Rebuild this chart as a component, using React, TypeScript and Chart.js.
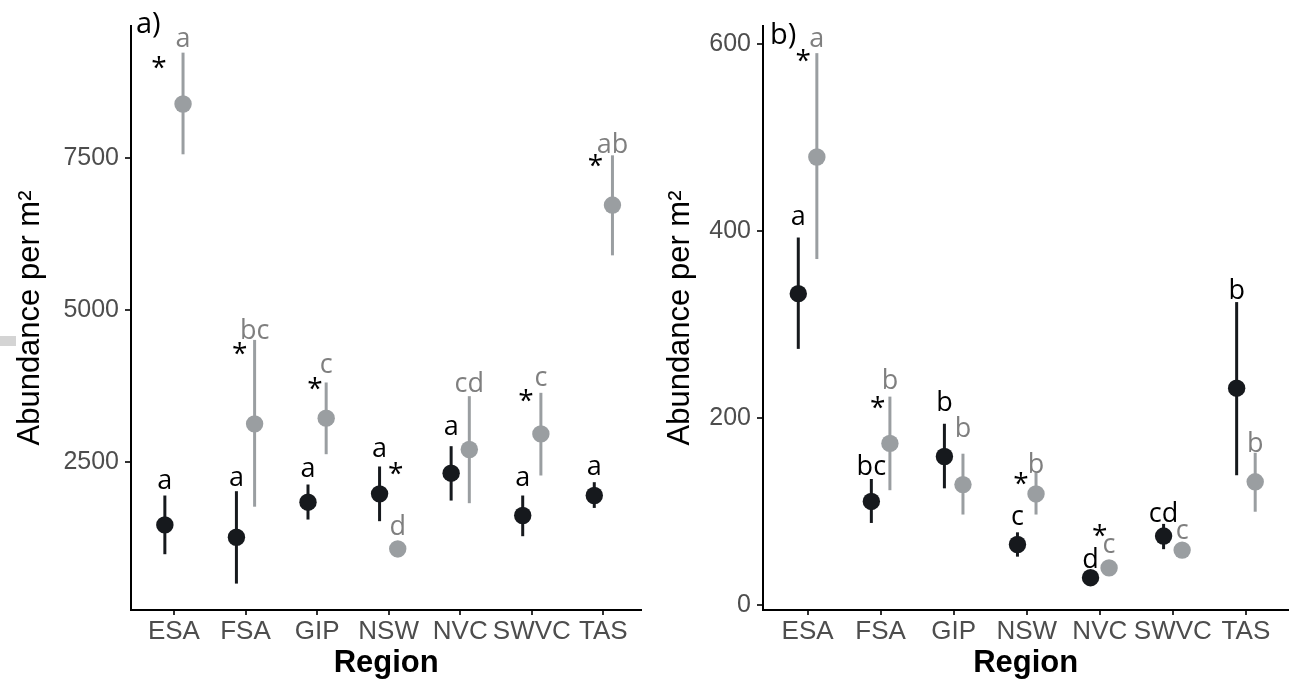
import React, { useEffect, useRef } from "react";
import { Chart, registerables } from "chart.js";
Chart.register(...registerables);

const regions = ["ESA", "FSA", "GIP", "NSW", "NVC", "SWVC", "TAS"];

// ---------- Panel a ----------
const aTicks = [2500, 5000, 7500];
const aBlackMean = [1469, 1266, 1842, 1979, 2319, 1623, 1952];
const aBlackLow = [987, 504, 1557, 1530, 1869, 1283, 1748];
const aBlackHigh = [1952, 2023, 2133, 2429, 2763, 1952, 2171];
const aGreyMean = [8388, 3130, 3224, 1075, 2708, 2965, 6727];
const aGreyLow = [7561, 1768, 2631, 937, 1826, 2281, 5900];
const aGreyHigh = [9232, 4510, 3810, 1157, 3585, 3640, 7544];
const aBlackLetters = ["a", "a", "a", "a", "a", "a", "a"];
const aBlackLetterY = [2188, 2225, 2373, 2702, 3064, 2225, 2418];
const aGreyLetters = ["a", "bc", "c", "d", "cd", "c", "ab"];
const aGreyLetterY = [9441, 4704, 4090, 1469, 3827, 3870, 7747];
const aStarY = [9062, 4363, 3788, 2390, null, 3597, 7467];
const aStarShift = [-0.21, -0.08, -0.03, 0.1, 0, -0.08, -0.11];

// ---------- Panel b ----------
const bTicks = [0, 200, 400, 600];
const bBlackMean = [333, 111, 159, 65, 29.5, 74, 232];
const bBlackLow = [274, 88, 125, 52, 27, 60, 139];
const bBlackHigh = [393, 135, 194, 78, 32, 87, 324];
const bGreyMean = [479, 173, 129, 119, 40, 59, 132];
const bGreyLow = [370, 123, 97, 97, 38, 56, 100];
const bGreyHigh = [590, 223, 162, 142, 42, 62, 163];
const bBlackLetters = ["a", "bc", "b", "c", "d", "cd", "b"];
const bBlackLetterY = [414, 151, 219, 94, 51, 100, 338];
const bGreyLetters = ["a", "b", "b", "b", "c", "c", "b"];
const bGreyLetterY = [605, 242, 191, 153, 64, 79, 175];
const bStarY = [588, 217, null, 135, 80, null, null];
const bStarShift = [-0.06, -0.04, 0, -0.08, 0, 0, 0];

const DODGE = 0.127;
const BLACK = "#16191d";
const GREY = "#9a9ea1";
const GREY_TEXT = "#7f7f7f";
const AXIS_FONT = '"Liberation Sans", Arial, sans-serif';
const NOTE_FONT = '"Open Sans", sans-serif';

type Panel = {
  label: string;
  labelX: number;
  labelY: number;
  yMin: number;
  yMax: number;
  xMin: number;
  xMax: number;
  yAxisWidth: number;
  padRight: number;
  ticks: number[];
  blackMean: number[];
  blackLow: number[];
  blackHigh: number[];
  greyMean: number[];
  greyLow: number[];
  greyHigh: number[];
  blackLetters: string[];
  blackLetterY: number[];
  greyLetters: string[];
  greyLetterY: number[];
  starY: (number | null)[];
  starShift: number[];
};

function makePlugin(p: Panel) {
  return {
    id: "annot" + p.label,
    beforeDatasetsDraw(chart: any) {
      const { ctx } = chart;
      const x = chart.scales.x;
      const y = chart.scales.y;
      ctx.save();
      ctx.lineWidth = 3;
      const sets: [number[], number[], number, string][] = [
        [p.blackLow, p.blackHigh, -DODGE, BLACK],
        [p.greyLow, p.greyHigh, DODGE, GREY],
      ];
      sets.forEach(([lo, hi, d, c]) => {
        ctx.strokeStyle = c;
        lo.forEach((l, i) => {
          const px = x.getPixelForValue(i + d);
          ctx.beginPath();
          ctx.moveTo(px, y.getPixelForValue(l));
          ctx.lineTo(px, y.getPixelForValue(hi[i]));
          ctx.stroke();
        });
      });
      ctx.restore();
    },
    afterDatasetsDraw(chart: any) {
      const { ctx } = chart;
      const x = chart.scales.x;
      const y = chart.scales.y;
      ctx.save();
      const drawCentered = (text: string, px: number, py: number, color: string) => {
        ctx.fillStyle = color;
        ctx.textAlign = "center";
        ctx.textBaseline = "alphabetic";
        const m = ctx.measureText(text);
        const asc = m.actualBoundingBoxAscent;
        const desc = m.actualBoundingBoxDescent;
        ctx.fillText(text, px, py + (asc - desc) / 2);
      };
      ctx.font = `27px ${NOTE_FONT}`;
      p.blackLetters.forEach((t, i) => {
        drawCentered(t, x.getPixelForValue(i - DODGE), y.getPixelForValue(p.blackLetterY[i]), "#000");
      });
      p.greyLetters.forEach((t, i) => {
        drawCentered(t, x.getPixelForValue(i + DODGE), y.getPixelForValue(p.greyLetterY[i]), GREY_TEXT);
      });
      ctx.font = `28px ${NOTE_FONT}`;
      p.starY.forEach((v, i) => {
        if (v === null) return;
        drawCentered("*", x.getPixelForValue(i + p.starShift[i]), y.getPixelForValue(v), "#000");
      });
      ctx.font = `29px ${NOTE_FONT}`;
      ctx.fillStyle = "#000";
      ctx.textAlign = "left";
      ctx.textBaseline = "alphabetic";
      const m = ctx.measureText(p.label);
      ctx.fillText(
        p.label,
        p.labelX,
        p.labelY + (m.actualBoundingBoxAscent - m.actualBoundingBoxDescent) / 2
      );
      ctx.restore();
    },
  };
}

function makeConfig(p: Panel): any {
  return {
    type: "scatter",
    data: {
      datasets: [
        {
          data: p.blackMean.map((v, i) => ({ x: i - DODGE, y: v })),
          pointBackgroundColor: BLACK,
          pointBorderWidth: 0,
          pointRadius: 8.7,
          pointHoverRadius: 8.7,
        },
        {
          data: p.greyMean.map((v, i) => ({ x: i + DODGE, y: v })),
          pointBackgroundColor: GREY,
          pointBorderWidth: 0,
          pointRadius: 8.7,
          pointHoverRadius: 8.7,
        },
      ],
    },
    options: {
      animation: false,
      responsive: false,
      maintainAspectRatio: false,
      events: [],
      layout: { padding: { left: 0, top: 26, right: p.padRight, bottom: 0 } },
      plugins: { legend: { display: false }, tooltip: { enabled: false }, title: { display: false } },
      scales: {
        x: {
          type: "linear",
          min: p.xMin,
          max: p.xMax,
          afterFit: (s: any) => {
            s.height = 74;
          },
          afterBuildTicks: (s: any) => {
            s.ticks = regions.map((_, i) => ({ value: i }));
          },
          ticks: {
            callback: (v: number) => regions[Math.round(v)],
            font: { family: AXIS_FONT, size: 26 },
            color: "#4d4d4d",
            padding: 1,
            maxRotation: 0,
            autoSkip: false,
          },
          grid: { display: true, drawOnChartArea: false, drawTicks: true, tickLength: 5, color: "#333", lineWidth: 2 },
          border: { display: true, color: "#000", width: 2 },
          title: {
            display: true,
            text: "Region",
            color: "#000",
            font: { family: AXIS_FONT, size: 31, weight: "bold" },
            padding: { top: 0, bottom: 2 },
          },
        },
        y: {
          type: "linear",
          min: p.yMin,
          max: p.yMax,
          afterFit: (s: any) => {
            s.width = p.yAxisWidth;
          },
          afterBuildTicks: (s: any) => {
            s.ticks = p.ticks.map((v) => ({ value: v }));
          },
          ticks: {
            font: { family: AXIS_FONT, size: 25 },
            color: "#4d4d4d",
            padding: 6,
            callback: (v: number) => String(v),
          },
          grid: { display: true, drawOnChartArea: false, drawTicks: true, tickLength: 6, color: "#333", lineWidth: 2 },
          border: { display: true, color: "#000", width: 2 },
          title: {
            display: true,
            text: "Abundance per m²",
            color: "#000",
            font: { family: AXIS_FONT, size: 31 },
            padding: { top: 12, bottom: 0 },
          },
        },
      },
    },
    plugins: [makePlugin(p)],
  };
}

const panelA: Panel = {
  label: "a)",
  labelX: 136,
  labelY: 25,
  yMin: 70,
  yMax: 9670,
  xMin: -0.6,
  xMax: 6.53,
  yAxisWidth: 131,
  padRight: 4,
  ticks: aTicks,
  blackMean: aBlackMean,
  blackLow: aBlackLow,
  blackHigh: aBlackHigh,
  greyMean: aGreyMean,
  greyLow: aGreyLow,
  greyHigh: aGreyHigh,
  blackLetters: aBlackLetters,
  blackLetterY: aBlackLetterY,
  greyLetters: aGreyLetters,
  greyLetterY: aGreyLetterY,
  starY: aStarY,
  starShift: aStarShift,
};

const panelB: Panel = {
  label: "b)",
  labelX: 120,
  labelY: 35,
  yMin: -5,
  yMax: 619,
  xMin: -0.61,
  xMax: 6.58,
  yAxisWidth: 113,
  padRight: 0,
  ticks: bTicks,
  blackMean: bBlackMean,
  blackLow: bBlackLow,
  blackHigh: bBlackHigh,
  greyMean: bGreyMean,
  greyLow: bGreyLow,
  greyHigh: bGreyHigh,
  blackLetters: bBlackLetters,
  blackLetterY: bBlackLetterY,
  greyLetters: bGreyLetters,
  greyLetterY: bGreyLetterY,
  starY: bStarY,
  starShift: bStarShift,
};

export default function App() {
  const refA = useRef<HTMLCanvasElement>(null);
  const refB = useRef<HTMLCanvasElement>(null);
  useEffect(() => {
    const ca = new Chart(refA.current!, makeConfig(panelA));
    const cb = new Chart(refB.current!, makeConfig(panelB));
    return () => {
      ca.destroy();
      cb.destroy();
    };
  }, []);
  return (
    <div style={{ position: "absolute", left: 0, top: 0, width: 1297, height: 684, background: "#fff", overflow: "hidden" }}>
      <canvas ref={refA} width={650} height={684} style={{ position: "absolute", left: 0, top: 0, width: 650, height: 684 }} />
      <canvas ref={refB} width={647} height={684} style={{ position: "absolute", left: 650, top: 0, width: 647, height: 684 }} />
      <div style={{ position: "absolute", left: 0, top: 336, width: 16, height: 10, background: "#d4d4d4" }} />
    </div>
  );
}
